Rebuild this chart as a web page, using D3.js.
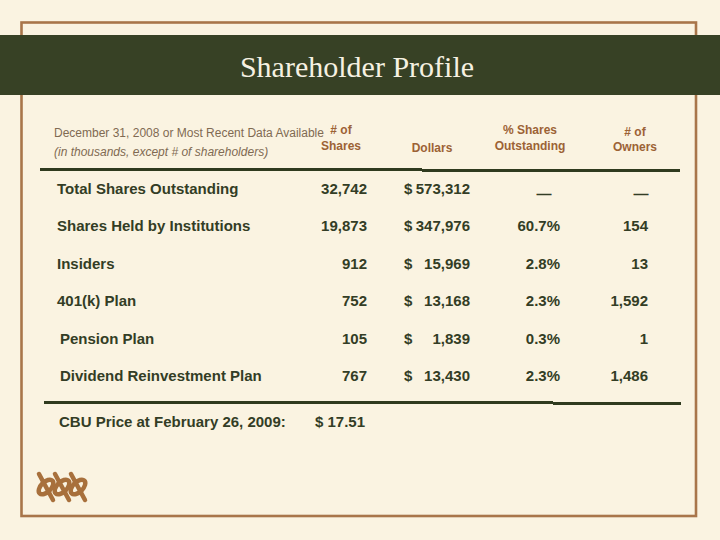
<!DOCTYPE html>
<html><head><meta charset="utf-8">
<script src="https://cdn.jsdelivr.net/npm/d3@7/dist/d3.min.js"></script>
<style>
html,body{margin:0;padding:0;background:#FAF3E1;}
svg{display:block;}
</style></head>
<body>
<script>
// ---- data ----
const title = "Shareholder Profile";
const subtitle1 = "December 31, 2008 or Most Recent Data Available";
const subtitle2 = "(in thousands, except # of shareholders)";
const rowLabels = ["Total Shares Outstanding","Shares Held by Institutions","Insiders","401(k) Plan","Pension Plan","Dividend Reinvestment Plan"];
const sharesValues = ["32,742","19,873","912","752","105","767"];
const dollarValues = ["573,312","347,976","15,969","13,168","1,839","13,430"];
const pctValues = ["—","60.7%","2.8%","2.3%","0.3%","2.3%"];
const ownerValues = ["—","154","13","1,592","1","1,486"];
const priceLabel = "CBU Price at February 26, 2009:";
const priceValue = "$ 17.51";

const W = 720, H = 540;
const svg = d3.select("body").append("svg").attr("width", W).attr("height", H);

svg.append("rect").attr("width", W).attr("height", H).attr("fill", "#FAF3E1");
// border frame
svg.append("rect").attr("x", 21.5).attr("y", 22.5).attr("width", 674.5).attr("height", 493.5)
  .attr("fill", "none").attr("stroke", "#A8754A").attr("stroke-width", 2.6);
// title band
svg.append("rect").attr("x", 0).attr("y", 35).attr("width", W).attr("height", 60).attr("fill", "#374125");
svg.append("text").attr("x", 357).attr("y", 77).attr("text-anchor", "middle")
  .attr("font-family", "'Liberation Serif','Times New Roman',serif").attr("font-size", 30)
  .attr("fill", "#F6F1E2").text(title);

// subtitle
const sub = svg.append("g").attr("font-family", "'Liberation Sans',Arial,sans-serif").attr("font-size", 12).attr("fill", "#806A52");
sub.append("text").attr("x", 54).attr("y", 137).text(subtitle1);
sub.append("text").attr("x", 54).attr("y", 156).attr("font-style", "italic").text(subtitle2);

// column x positions
const col = {shares: 367, dollarSign: 404, dollars: 470, pct: 560, owners: 648};

// headers
const hdr = svg.append("g").attr("font-family", "'Liberation Sans',Arial,sans-serif").attr("font-size", 12)
  .attr("font-weight", "bold").attr("fill", "#9C6235").attr("text-anchor", "middle");
const headers = [
  {x: 341, lines: [["# of", 134], ["Shares", 150]]},
  {x: 432, lines: [["Dollars", 152]]},
  {x: 530, lines: [["% Shares", 134], ["Outstanding", 150]]},
  {x: 635, lines: [["# of", 136], ["Owners", 151]]}
];
headers.forEach(h => h.lines.forEach(([t, y]) => hdr.append("text").attr("x", h.x).attr("y", y).text(t)));

// rule lines
const lineCol = "#2F3A1E";
svg.append("line").attr("x1", 40).attr("x2", 422).attr("y1", 169.5).attr("y2", 169.5).attr("stroke", lineCol).attr("stroke-width", 3);
svg.append("line").attr("x1", 422).attr("x2", 680).attr("y1", 170.5).attr("y2", 170.5).attr("stroke", lineCol).attr("stroke-width", 3);
svg.append("line").attr("x1", 44).attr("x2", 553).attr("y1", 402.5).attr("y2", 402.5).attr("stroke", lineCol).attr("stroke-width", 3);
svg.append("line").attr("x1", 553).attr("x2", 681).attr("y1", 403.5).attr("y2", 403.5).attr("stroke", lineCol).attr("stroke-width", 3);

// rows
const y = d3.scalePoint().domain(rowLabels).range([194, 381]);
const rows = svg.append("g").attr("font-family", "'Liberation Sans',Arial,sans-serif").attr("font-size", 15)
  .attr("font-weight", "bold").attr("fill", "#333D25");
const labelX = [57, 57, 57, 57, 60, 60];
rowLabels.forEach((lab, i) => {
  const yy = y(lab);
  rows.append("text").attr("x", labelX[i]).attr("y", yy).text(lab);
  rows.append("text").attr("x", col.shares).attr("y", yy).attr("text-anchor", "end").text(sharesValues[i]);
  rows.append("text").attr("x", col.dollarSign).attr("y", yy).text("$");
  rows.append("text").attr("x", col.dollars).attr("y", yy).attr("text-anchor", "end").text(dollarValues[i]);
  if (pctValues[i] === "—") {
    rows.append("text").attr("x", 544).attr("y", yy + 5).attr("text-anchor", "middle").text(pctValues[i]);
  } else {
    rows.append("text").attr("x", col.pct).attr("y", yy).attr("text-anchor", "end").text(pctValues[i]);
  }
  if (ownerValues[i] === "—") {
    rows.append("text").attr("x", 641).attr("y", yy + 5).attr("text-anchor", "middle").text(ownerValues[i]);
  } else {
    rows.append("text").attr("x", col.owners).attr("y", yy).attr("text-anchor", "end").text(ownerValues[i]);
  }
});
rows.append("text").attr("x", 59).attr("y", 427).text(priceLabel);
rows.append("text").attr("x", 315).attr("y", 427).text(priceValue);

// logo (chain knot)
const logo = svg.append("g").attr("fill", "none").attr("stroke", "#A8703C").attr("stroke-width", 4.5).attr("stroke-linecap", "round");
[0, 1, 2].forEach(i => {
  const cx = 46 + i * 16, cy = 487;
  logo.append("ellipse").attr("cx", cx).attr("cy", cy).attr("rx", 9).attr("ry", 5)
    .attr("transform", `rotate(-45 ${cx} ${cy})`);
  logo.append("line").attr("x1", cx - 7).attr("y1", cy - 13).attr("x2", cx + 7).attr("y2", cy + 13);
});
</script>
</body></html>
